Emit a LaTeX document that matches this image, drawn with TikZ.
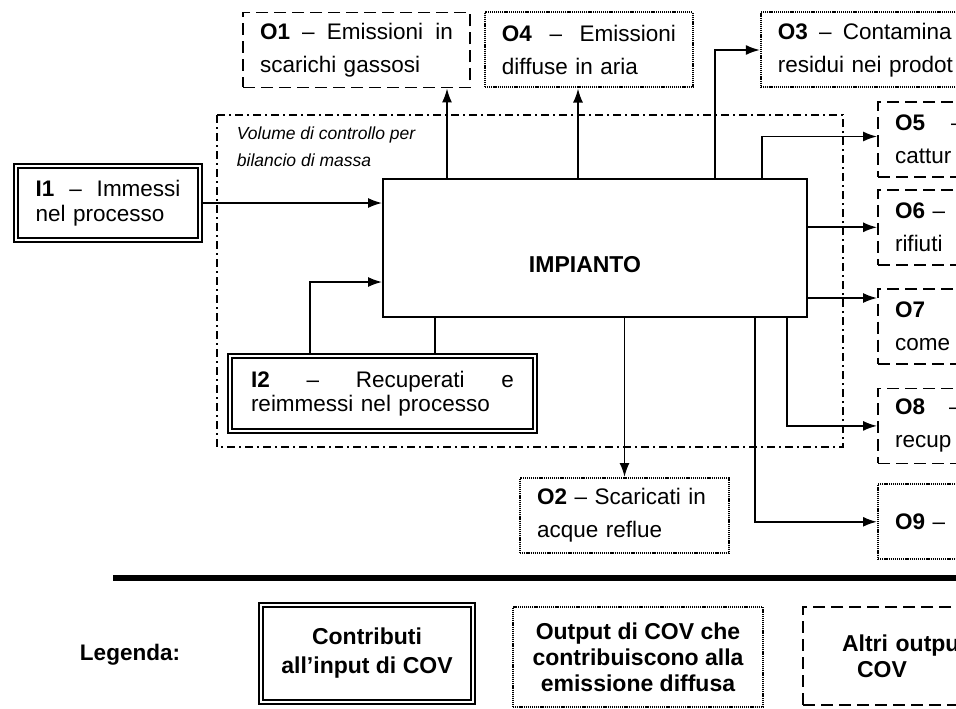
\documentclass[tikz,border=0pt]{standalone}
\usepackage{fontspec}
\setmainfont{Liberation Sans}
\usetikzlibrary{arrows.meta,positioning}

\newcommand{\jline}[1]{\hbox to\hsize{#1}}

\begin{document}
\begin{tikzpicture}[x=1pt, y=-1pt, line width=1.8pt,
    >={Latex[length=14pt,width=10pt]},
    font=\fontsize{22.5}{33}\selectfont]
        \tikzstyle{inbox}=[draw, rectangle, double, double distance=1.8pt, align=left,
            font=\fontsize{22.5}{24.5}\selectfont]
        \tikzstyle{altribox}=[draw, rectangle, dash pattern=on 12pt off 6pt, align=left,
            inner xsep=17pt, minimum height=75pt]
        \tikzstyle{diffbox}=[draw, rectangle, line width=2pt, dash pattern=on 1.2pt off 0.9pt,
            align=left, inner xsep=17pt, minimum height=75pt]
        \tikzstyle{plantbox}=[draw, rectangle, minimum width=424pt, minimum height=138pt]
        \tikzstyle{volline}=[line width=1.4pt, dash pattern=on 8pt off 4pt on 2pt off 4pt]
        \tikzstyle{legtext}=[align=center, font=\bfseries\fontsize{23}{26}\selectfont]

        \useasboundingbox (0,0) rectangle (956,709);
        \clip (0,0) rectangle (956,709);

        % volume di controllo
        \draw[volline] (217,115) rectangle (843,447);
        \node[anchor=north west, inner sep=0pt, align=left,
            font=\itshape\fontsize{17.5}{27}\selectfont] (vollabel) at (236,126)
            {Volume di controllo per\\ bilancio di massa};

        \node[plantbox] (imp) at (595,248) {};
        \node[font=\bfseries\fontsize{23}{26}\selectfont] (implabel) at (585,265) {IMPIANTO};

        \node[inbox, text width=145pt, minimum width=184pt, minimum height=74pt] (i1) at (108,203)
            {\jline{\textbf{I1}\hfill–\hfill Immessi}\\ nel processo};
        \node[inbox, text width=263pt, minimum width=305pt, minimum height=75pt] (i2) at (382.5,393.5)
            {\jline{\textbf{I2}\hfill–\hfill Recuperati\hfill e}\\ reimmessi nel processo};

        \node[altribox, text width=193pt] (o1) at (356.5,50)
            {\jline{\textbf{O1}\hfill–\hfill Emissioni\hfill in}\\ scarichi gassosi};
        \node[diffbox, text width=174pt] (o4) [right=13pt of o1]
            {\jline{\textbf{O4}\hfill–\hfill Emissioni}\\ diffuse in aria};
        \node[diffbox, text width=200pt] (o3) [right=66pt of o4]
            {\textbf{O3} \,–\, Contamina\\ residui nei prodot};

        \node[altribox, text width=200pt] (o5) at (995,139.5)
            {\textbf{O5}\hspace{26pt}–\\ cattur};
        \node[altribox, text width=200pt] (o6) [below=11pt of o5]
            {\textbf{O6} –\\ rifiuti};
        \node[altribox, text width=200pt] (o7) [below=22pt of o6]
            {\textbf{O7}\\ come};
        \node[altribox, text width=200pt] (o8) [below=23pt of o7]
            {\textbf{O8}\hspace{24pt}–\\ recup};
        \node[diffbox, text width=200pt] (o9) [below=19pt of o8]
            {\textbf{O9} –};

        \node[diffbox, text width=175pt] (o2) at (624.5,515.5)
            {\textbf{O2} – Scaricati in\\ acque reflue};

        \draw[->] (i1) -- (i1 -| imp.west);
        \draw[->] ([xshift=-72.5pt]i2.north) |- ([yshift=-34pt]imp.west);
        \draw ([xshift=-160pt]imp.south) -- ([xshift=-160pt]imp.south |- i2.north);

        \draw[->] ([xshift=-148pt]imp.north) -- ([xshift=-148pt]imp.north |- o1.south);
        \draw[->] ([xshift=-17pt]imp.north) -- ([xshift=-17pt]imp.north |- o4.south);
        \draw[->] ([xshift=120pt]imp.north) |- (o3.west);
        \draw[->] ([xshift=167pt]imp.north) |- ([yshift=3pt]o5.west);

        \draw[->] (imp.east |- o6.west) -- (o6.west);
        \draw[->] ([yshift=-50pt]imp.east) -- ([yshift=-50pt]imp.east -| o7.west);
        \draw[->] ([xshift=192pt]imp.south) |- (o8.west);
        \draw[->] ([xshift=160pt]imp.south) |- (o9.west);
        \draw[->] (imp.south -| o2.north) -- (o2.north);

        % legenda
        \draw[line width=6pt] (113,578) -- (956,578);
        \node[font=\bfseries\fontsize{22.5}{26}\selectfont] (legenda) at (130,655) {Legenda:};
        \node[inbox, legtext, font=\bfseries\fontsize{23}{29}\selectfont,
            minimum width=212pt, minimum height=97pt] (leg1) at (367,653.5)
            {Contributi\\ all’input di COV};
        \node[diffbox, legtext, inner xsep=5pt, minimum width=250pt, minimum height=100pt] (leg2) at (638,657)
            {Output di COV che\\ contribuiscono alla\\ emissione diffusa};
        \node[altribox, legtext, align=left, text width=216pt, minimum height=98pt] (leg3) at (928,656)
            {\hspace*{22pt}Altri output\\ \hspace*{37pt}COV};

    \end{tikzpicture}
\end{document}
